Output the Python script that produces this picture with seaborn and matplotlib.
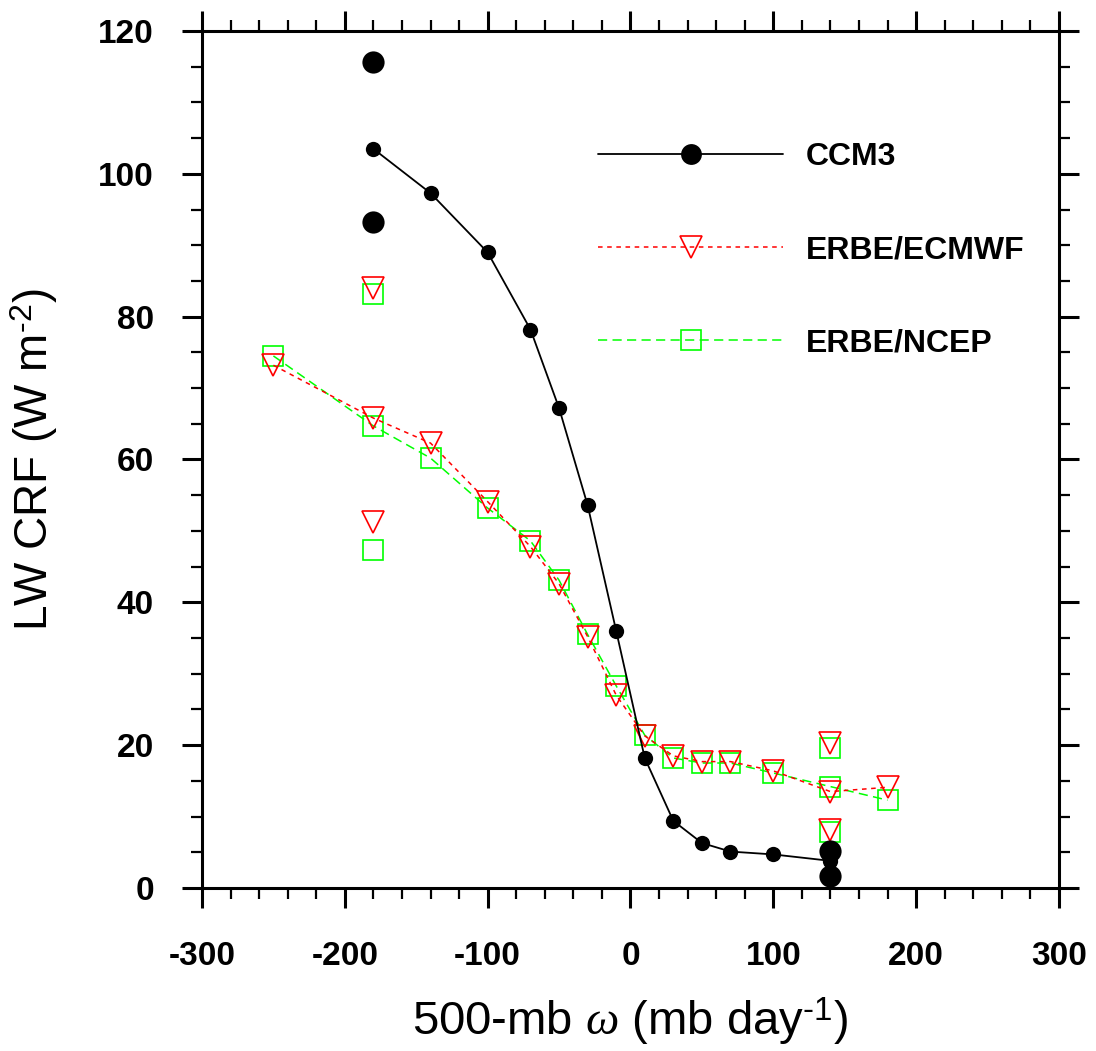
import matplotlib
matplotlib.use("Agg")
import matplotlib.pyplot as plt
from matplotlib.lines import Line2D
from matplotlib.ticker import MultipleLocator
import seaborn as sns

# CCM3 binned curve and the two extra points at the end bins
ccm3_x = [-180, -140, -100, -70, -50, -30, -10, 10, 30, 50, 70, 100, 140]
ccm3_y = [103.5, 97.3, 89.0, 78.2, 67.2, 53.6, 36.0, 18.2, 9.4, 6.3, 5.1, 4.7, 3.8]
ccm3_extra_x = [-180, -180, 140, 140]
ccm3_extra_y = [115.7, 93.3, 5.2, 1.7]

# ERBE/ECMWF
ecmwf_x = [-250, -180, -140, -100, -70, -50, -30, -10, 10, 30, 50, 70, 100, 140, 180]
ecmwf_y = [73.2, 65.8, 62.3, 54.1, 47.8, 42.6, 35.2, 27.0, 21.3, 18.5, 17.7, 17.7, 16.4, 13.5, 14.1]
ecmwf_extra_x = [-180, -180, 140, 140]
ecmwf_extra_y = [84.0, 51.3, 20.3, 8.1]

# ERBE/NCEP
ncep_x = [-250, -180, -140, -100, -70, -50, -30, -10, 10, 30, 50, 70, 100, 140, 180]
ncep_y = [74.5, 64.7, 60.2, 53.2, 48.6, 43.1, 35.5, 28.3, 21.4, 18.2, 17.5, 17.5, 16.1, 14.2, 12.3]
ncep_extra_x = [-180, -180, 140, 140]
ncep_extra_y = [83.2, 47.3, 19.6, 7.8]

labels = ["CCM3", "ERBE/ECMWF", "ERBE/NCEP"]

sns.set_style("ticks")
plt.rcParams["font.family"] = ["Liberation Sans", "DejaVu Sans"]
plt.rcParams["axes.unicode_minus"] = False
plt.rcParams["mathtext.fontset"] = "custom"
plt.rcParams["mathtext.rm"] = "Liberation Sans"
plt.rcParams["mathtext.it"] = "Liberation Serif:italic"
for k in ["text.color", "axes.labelcolor", "xtick.color", "ytick.color",
          "xtick.labelcolor", "ytick.labelcolor", "axes.edgecolor"]:
    plt.rcParams[k] = "black"

RED = "#ff0000"
GREEN = "#00ff00"

fig = plt.figure(figsize=(10.96, 10.51), dpi=100)
ax = fig.add_axes([0.1843, 0.1551, 0.7819, 0.8154])

green_dash = (0, (6, 3.5))
red_dash = (0, (3, 3))

# NCEP first so the red triangles sit on top
sns.lineplot(x=ncep_x, y=ncep_y, ax=ax, color=GREEN, lw=1.1, linestyle=green_dash,
             marker="s", markersize=14.5, markerfacecolor="none",
             markeredgecolor=GREEN, markeredgewidth=1.2,
             estimator=None, sort=False, zorder=2)
sns.lineplot(x=ncep_extra_x, y=ncep_extra_y, ax=ax, color=GREEN, linestyle="none",
             marker="s", markersize=14.5, markerfacecolor="none",
             markeredgecolor=GREEN, markeredgewidth=1.2,
             estimator=None, sort=False, zorder=2)

sns.lineplot(x=ecmwf_x, y=ecmwf_y, ax=ax, color=RED, lw=1.1, linestyle=red_dash,
             marker="v", markersize=16, markerfacecolor="none",
             markeredgecolor=RED, markeredgewidth=1.2,
             estimator=None, sort=False, zorder=3)
sns.lineplot(x=ecmwf_extra_x, y=ecmwf_extra_y, ax=ax, color=RED, linestyle="none",
             marker="v", markersize=16, markerfacecolor="none",
             markeredgecolor=RED, markeredgewidth=1.2,
             estimator=None, sort=False, zorder=3)

sns.lineplot(x=ccm3_x, y=ccm3_y, ax=ax, color="black", lw=1.3,
             marker="o", markersize=11, markeredgewidth=0,
             estimator=None, sort=False, zorder=4)
sns.lineplot(x=ccm3_extra_x, y=ccm3_extra_y, ax=ax, color="black", linestyle="none",
             marker="o", markersize=16, markeredgewidth=0,
             estimator=None, sort=False, zorder=4)

ax.set_xlim(-300, 300)
ax.set_ylim(0, 120)
ax.xaxis.set_major_locator(MultipleLocator(100))
ax.xaxis.set_minor_locator(MultipleLocator(20))
ax.yaxis.set_major_locator(MultipleLocator(20))
ax.yaxis.set_minor_locator(MultipleLocator(5))

for s in ax.spines.values():
    s.set_visible(True)
    s.set_linewidth(2.2)
    s.set_color("black")

ax.tick_params(which="both", direction="out", top=True, right=True,
               labeltop=False, labelright=False, color="black", labelcolor="black")
ax.tick_params(which="major", length=14.5, width=2.2)
ax.tick_params(which="minor", length=8, width=1.6)
ax.tick_params(axis="x", which="major", pad=24)
ax.tick_params(axis="y", which="major", pad=20)
for t in ax.get_xticklabels() + ax.get_yticklabels():
    t.set_fontsize(24)
    t.set_fontweight("bold")

ax.set_xlabel(r"500-mb $\omega$ (mb day$^{\text{-1}}$)", fontsize=34, color="black")
ax.set_ylabel(r"LW CRF (W m$^{\text{-2}}$)", fontsize=33, color="black")
ax.xaxis.set_label_coords(0.5, -0.126)
ax.yaxis.set_label_coords(-0.166, 0.5)

handles = [
    Line2D([], [], color="black", lw=1.3, marker="o", markersize=15, markeredgewidth=0),
    Line2D([], [], color=RED, lw=1.1, linestyle=red_dash, marker="v", markersize=16,
           markerfacecolor="none", markeredgecolor=RED, markeredgewidth=1.2),
    Line2D([], [], color=GREEN, lw=1.1, linestyle=green_dash, marker="s", markersize=14.5,
           markerfacecolor="none", markeredgecolor=GREEN, markeredgewidth=1.2),
]
leg = ax.legend(handles, labels, loc="upper left", bbox_to_anchor=(0.462, 0.870),
                frameon=False, handlelength=5.8, handletextpad=0.7, labelspacing=1.97,
                borderpad=0, borderaxespad=0, prop={"size": 23, "weight": "bold"})
for t in leg.get_texts():
    t.set_color("black")

fig.savefig("out.png", dpi=100)
